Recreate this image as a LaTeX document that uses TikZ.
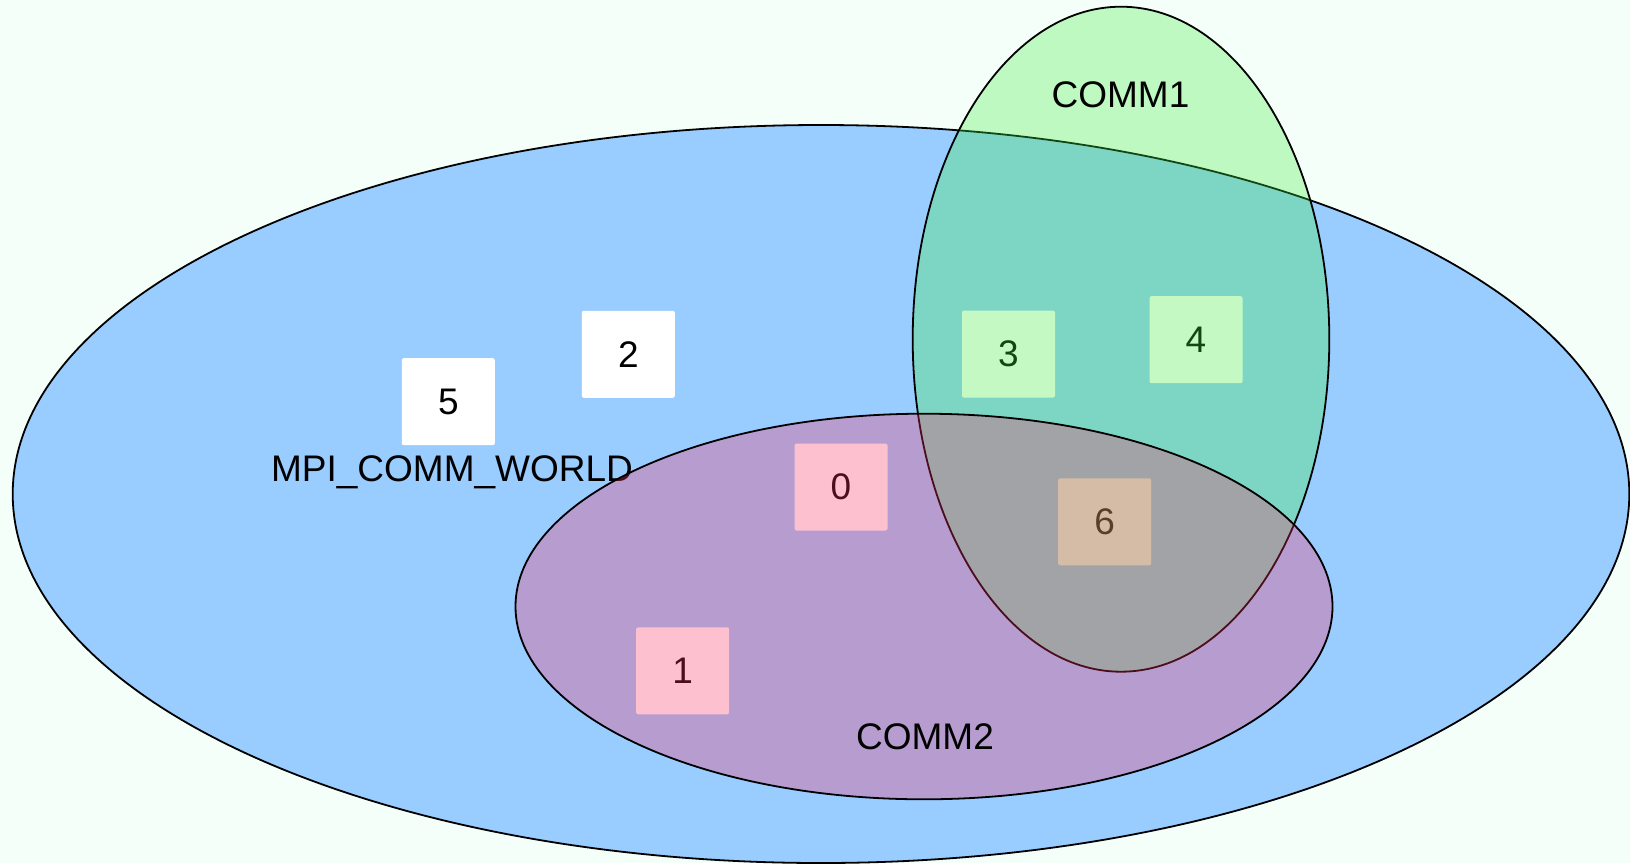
\documentclass[tikz,border=0pt]{standalone}
\usepackage{fontspec}
\setmainfont{Liberation Sans}
\definecolor{bgc}{RGB}{245,255,250}
\definecolor{worldc}{RGB}{153,204,255}
\definecolor{commonec}{RGB}{62,238,62}
\definecolor{commtwoc}{RGB}{250,47,98}
\tikzset{
  rank/.style={fill=white, rounded corners=2pt, minimum width=93pt, minimum height=87pt, inner sep=0pt,
    font=\fontsize{37}{44}\selectfont},
  lbl/.style={anchor=base, inner sep=0pt, font=\fontsize{37}{44}\selectfont},
  outline/.style={draw=black, line width=1.8pt}
}
\begin{document}
\begin{tikzpicture}[x=1pt,y=-1pt]
\fill[bgc] (0,0) rectangle (1630,863);
\useasboundingbox (0,0) rectangle (1630,863);
% MPI_COMM_WORLD
\filldraw[fill=worldc, outline] (821,494) ellipse [x radius=808.3, y radius=369];
% ranks
\node[rank] (r5) at (448.3,401.7) {5};
\node[rank] (r2) at (628.3,354.3) {2};
\node[rank] (r3) at (1008.5,354) {3};
\node[rank] (r4) at (1196,339.7) {4};
\node[rank] (r0) at (841,487) {0};
\node[rank] (r6) at (1104.7,521.8) {6};
\node[rank] (r1) at (682.7,670.8) {1};
\node[lbl] (world) at (452,481.7) {MPI\_COMM\_WORLD};
% COMM1
\draw[outline, fill=commonec, fill opacity=0.3] (1121,339.2) ellipse [x radius=208.3, y radius=332.5];
% COMM2
\draw[outline, fill=commtwoc, fill opacity=0.3] (924,606.5) ellipse [x radius=408.5, y radius=192.8];
\node[lbl] (c1) at (1120.5,107) {COMM1};
\node[lbl] (c2) at (925,749) {COMM2};
\end{tikzpicture}
\end{document}
